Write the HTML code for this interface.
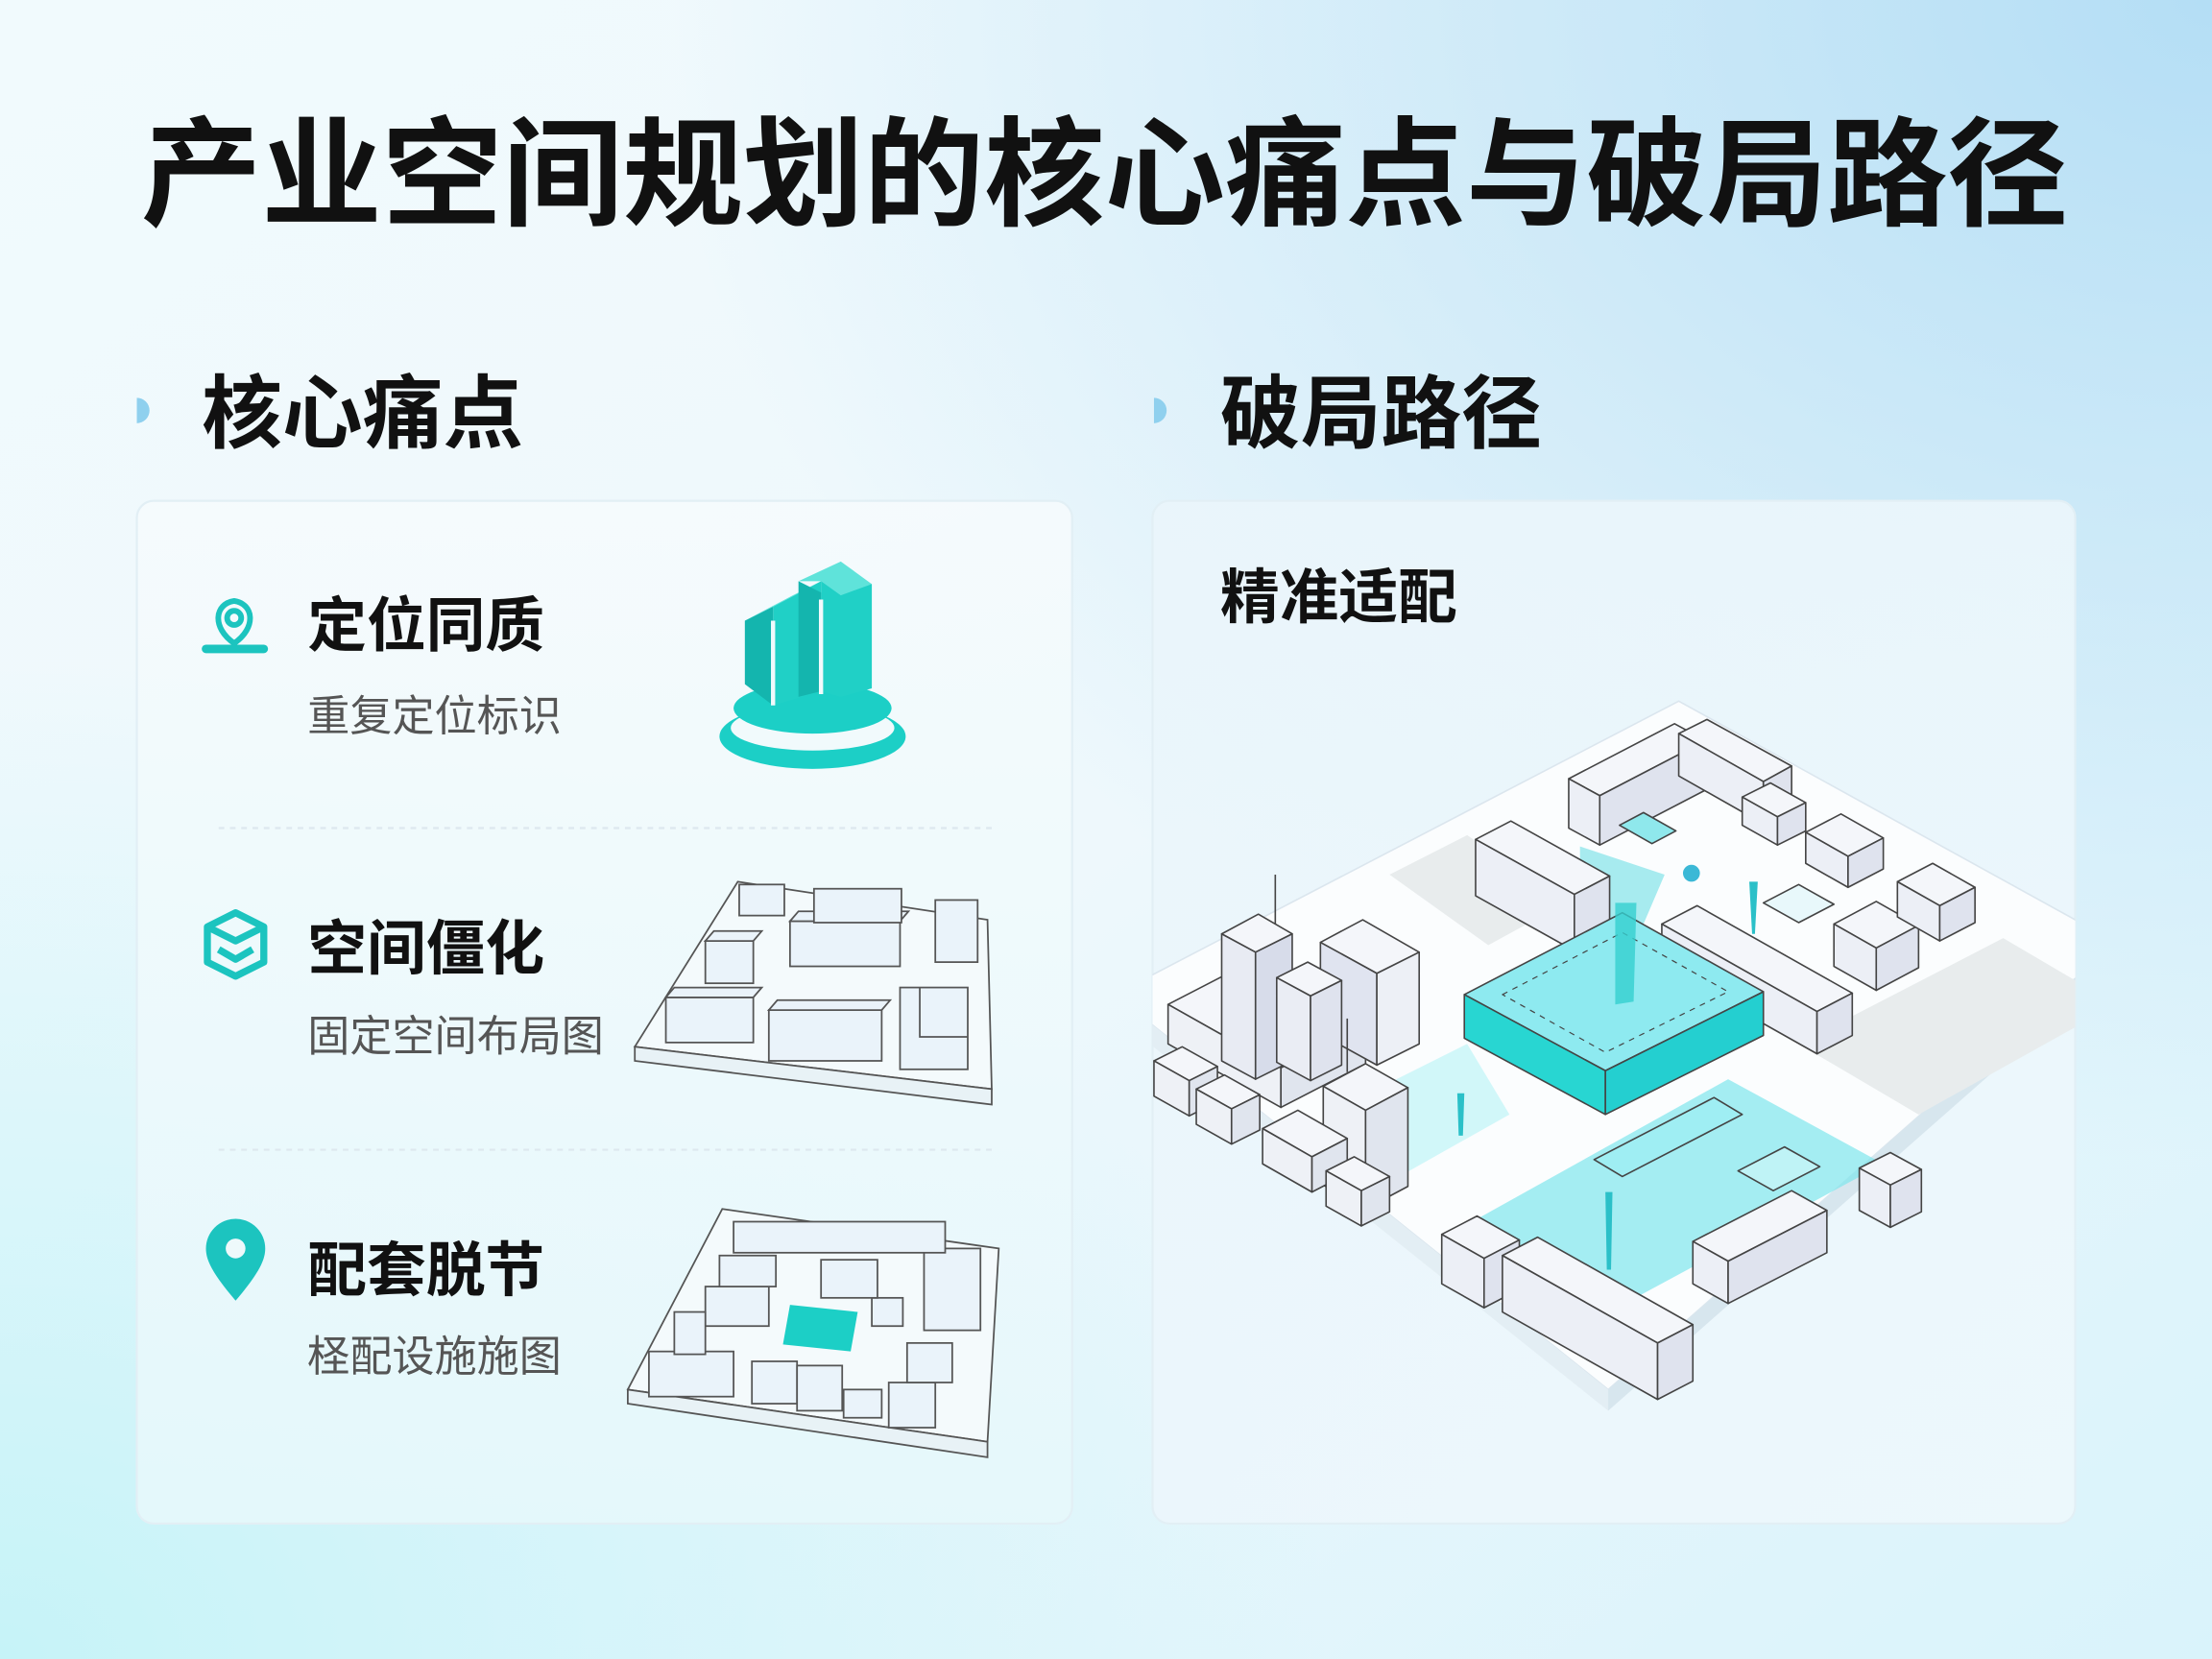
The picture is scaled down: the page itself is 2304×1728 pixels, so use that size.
<!DOCTYPE html>
<html><head><meta charset="utf-8"><style>
html,body{margin:0;padding:0;width:2304px;height:1728px;overflow:hidden;background:#eaf7fb}
svg{display:block}
text{font-family:"Liberation Sans","Noto Sans CJK SC",sans-serif}
</style></head><body>
<svg width="2304" height="1728" viewBox="0 0 1568 1176" xmlns="http://www.w3.org/2000/svg">
<defs>
<linearGradient id="bg" x1="0" y1="0" x2="1" y2="1">
<stop offset="0" stop-color="#f1fafd"/><stop offset="0.5" stop-color="#eef8fc"/><stop offset="1" stop-color="#d9f3fb"/>
</linearGradient>
<radialGradient id="tr" cx="1" cy="0" r="0.7">
<stop offset="0" stop-color="#b4def5"/><stop offset="1" stop-color="#b4def5" stop-opacity="0"/>
</radialGradient>
<radialGradient id="bl" cx="0" cy="1" r="0.6">
<stop offset="0" stop-color="#c6f3f8"/><stop offset="1" stop-color="#c6f3f8" stop-opacity="0"/>
</radialGradient>
<linearGradient id="card" x1="0" y1="0" x2="0" y2="1">
<stop offset="0" stop-color="#f6fbfd" stop-opacity="0.9"/><stop offset="1" stop-color="#e6f8fb" stop-opacity="0.9"/>
</linearGradient>
<linearGradient id="card2" x1="0" y1="0" x2="1" y2="1">
<stop offset="0" stop-color="#eaf5fb" stop-opacity="0.9"/><stop offset="1" stop-color="#eef8fc" stop-opacity="0.9"/>
</linearGradient>
<clipPath id="rc"><rect x="817" y="355" width="654" height="725" rx="12"/></clipPath>
</defs>
<rect width="1568" height="1176" fill="url(#bg)"/>
<rect width="1568" height="1176" fill="url(#tr)"/>
<rect width="1568" height="1176" fill="url(#bl)"/>

<text x="100" y="153" font-size="84" font-weight="bold" fill="#111" textLength="1366" lengthAdjust="spacingAndGlyphs">产业空间规划的核心痛点与破局路径</text>

<path d="M97,282 a9,9 0 0 1 0,18 z" fill="#8fd0ee"/>
<text x="143" y="313" font-size="57" font-weight="bold" fill="#111" textLength="228" lengthAdjust="spacingAndGlyphs">核心痛点</text>
<path d="M818,282 a9,9 0 0 1 0,18 z" fill="#8fd0ee"/>
<text x="865" y="313" font-size="57" font-weight="bold" fill="#111" textLength="228" lengthAdjust="spacingAndGlyphs">破局路径</text>

<!-- left card -->
<rect x="97" y="355" width="663" height="725" rx="12" fill="url(#card)" stroke="#e2eff5" stroke-width="1.5"/>
<!-- right card -->
<rect x="817" y="355" width="654" height="725" rx="12" fill="url(#card2)" stroke="#e2eff5" stroke-width="1.5"/>

<line x1="155" y1="587" x2="705" y2="587" stroke="#dde8ee" stroke-width="1.5" stroke-dasharray="4 4"/>
<line x1="155" y1="815" x2="705" y2="815" stroke="#dde8ee" stroke-width="1.5" stroke-dasharray="4 4"/>

<!-- icon 1 -->
<g fill="none" stroke="#1cc4bf" stroke-width="4">
<path d="M166,456 C150,445 152,428 166,426 C180,428 182,445 166,456 z"/>
<circle cx="166" cy="438" r="5"/>
</g>
<rect x="143" y="457" width="47" height="6" rx="3" fill="#1cc4bf"/>
<text x="218" y="458" font-size="42" font-weight="bold" fill="#111">定位同质</text>
<text x="218" y="518" font-size="30" fill="#555">重复定位标识</text>

<!-- teal building icon -->
<ellipse cx="576" cy="522" rx="66" ry="23" fill="#1ccfc6"/>
<ellipse cx="576" cy="516" rx="58" ry="16" fill="#f1fafc"/>
<ellipse cx="576" cy="502" rx="56" ry="18" fill="#1ccfc6"/>
<polygon points="548,430 582,412 582,490 548,500" fill="#20d0c6"/>
<polygon points="528,440 548,430 548,500 528,485" fill="#14b5ae"/>
<polygon points="528,440 562,422 582,412 548,430" fill="#5fe3da"/>
<polygon points="582,412 596,404 618,414 618,488 596,494 582,490" fill="#20d0c6"/>
<polygon points="566,412 596,398 618,414 596,422 582,412" fill="#5fe3da"/>
<polygon points="566,412 582,420 582,490 566,494" fill="#14b5ae"/>
<line x1="548" y1="440" x2="548" y2="500" stroke="#f1fafc" stroke-width="3"/>
<line x1="582" y1="425" x2="582" y2="492" stroke="#f1fafc" stroke-width="3"/>

<!-- icon 2 cube -->
<g fill="none" stroke="#1cc4bf" stroke-width="5" stroke-linejoin="round">
<polygon points="167,647 187,657 187,682 167,692 147,682 147,657"/>
<polyline points="147,657 167,667 187,657"/>
<polyline points="155,673 167,680 179,673"/>
</g>
<text x="218" y="687" font-size="42" font-weight="bold" fill="#111">空间僵化</text>
<text x="218" y="745" font-size="30" fill="#555">固定空间布局图</text>

<!-- plate 2 -->
<g stroke="#555" stroke-width="1.2" fill="#f4fafc">
<polygon points="523,625 700,652 703,772 450,742"/>
<polygon points="450,742 703,772 703,783 450,752" fill="#e8f2f6"/>
<g fill="#eaf3fa">
<rect x="472" y="707" width="62" height="32"/><polygon points="472,707 478,700 540,700 534,707"/>
<rect x="545" y="716" width="80" height="36"/><polygon points="545,716 551,709 631,709 625,716"/>
<rect x="500" y="667" width="34" height="30"/><polygon points="500,667 506,660 540,660 534,667"/>
<rect x="560" y="653" width="78" height="32"/><polygon points="560,653 566,646 644,646 638,653"/>
<rect x="577" y="630" width="62" height="24"/>
<rect x="524" y="627" width="32" height="22"/>
<rect x="663" y="638" width="30" height="44"/>
<rect x="638" y="700" width="48" height="58"/><polyline points="652,700 652,735 686,735" fill="none"/>
</g>
</g>

<!-- icon 3 pin -->
<path d="M167,922 C150,902 146,893 146,885 A21,21 0 0 1 188,885 C188,893 184,902 167,922 z" fill="#1cc4bf"/>
<circle cx="167" cy="885" r="7" fill="#eef9fb"/>
<text x="218" y="915" font-size="42" font-weight="bold" fill="#111">配套脱节</text>
<text x="218" y="972" font-size="30" fill="#555">柽配设施施图</text>

<!-- plate 3 -->
<g stroke="#555" stroke-width="1.2" fill="#f4fafc">
<polygon points="512,857 708,885 700,1022 445,985"/>
<polygon points="445,985 700,1022 700,1033 445,995" fill="#e8f2f6"/>
<polygon points="560,925 608,930 603,958 555,953" fill="#1ccfc6" stroke="none"/>
<g fill="#eaf3fa">
<rect x="460" y="958" width="60" height="32"/>
<rect x="533" y="965" width="32" height="30"/>
<rect x="565" y="968" width="32" height="32"/>
<rect x="598" y="985" width="27" height="20"/>
<rect x="630" y="980" width="33" height="32"/>
<rect x="643" y="952" width="32" height="28"/>
<rect x="618" y="920" width="22" height="20"/>
<rect x="582" y="893" width="40" height="27"/>
<rect x="655" y="885" width="40" height="58"/>
<rect x="500" y="912" width="45" height="28"/>
<rect x="510" y="890" width="40" height="22"/>
<rect x="520" y="866" width="150" height="22"/>
<rect x="478" y="930" width="22" height="30"/>
</g>
</g>

<text x="865" y="438" font-size="42" font-weight="bold" fill="#111">精准适配</text>

<!-- iso map -->
<g clip-path="url(#rc)" stroke="#444" stroke-width="1.1" stroke-linejoin="round">
<polygon points="790,705 1190,497 1500,668 1140,985" fill="#fbfdfe" stroke="#dbe6ee"/>
<polygon points="790,705 1140,985 1140,1000 790,720" fill="#e3eef4" stroke="none"/>
<polygon points="1140,985 1500,668 1500,683 1140,1000" fill="#d7e6ee" stroke="none"/>
<polygon points="985,620 1040,592 1110,640 1055,670" fill="#e8eced" stroke="none"/>
<polygon points="1275,740 1420,665 1500,712 1360,790" fill="#e8eced" stroke="none"/>
<polygon points="1040,868 1225,765 1335,825 1150,925" fill="#7fe6ec" fill-opacity="0.7" stroke="none"/>
<polygon points="960,780 1040,740 1070,790 990,835" fill="#bff3f6" fill-opacity="0.7" stroke="none"/>
<polygon points="1120,600 1180,620 1150,690 1120,690" fill="#6fe0e4" fill-opacity="0.6" stroke="none"/>

<g fill="#f4f6fa">
<!-- left cluster -->
<polygon points="828,712 888,681 968,726 908,757"/><polygon points="828,712 908,757 908,785 828,740" fill="#eef1f6"/><polygon points="908,757 968,726 968,754 908,785" fill="#e0e5ee"/>
<polygon points="866,662 892,648 916,662 890,675"/><polygon points="866,662 890,675 890,765 866,752" fill="#e8ebf3"/><polygon points="890,675 916,662 916,752 890,765" fill="#d7dcea"/>
<line x1="904" y1="620" x2="904" y2="655"/>
<polygon points="936,668 966,652 1006,675 976,690"/><polygon points="936,668 976,690 976,755 936,733" fill="#e0e4f0"/><polygon points="976,690 1006,675 1006,740 976,755" fill="#edf0f6"/>
<polygon points="905,693 927,682 951,695 929,706"/><polygon points="905,693 929,706 929,766 905,753" fill="#eaedf4"/><polygon points="929,706 951,695 951,755 929,766" fill="#dfe3ee"/>
<polygon points="938,770 968,754 998,771 968,787"/><polygon points="938,770 968,787 968,857 938,840" fill="#eef1f6"/><polygon points="968,787 998,771 998,841 968,857" fill="#e0e5ee"/>
<line x1="955" y1="722" x2="955" y2="760"/>
<polygon points="818,752 838,742 863,756 843,766"/><polygon points="818,752 843,766 843,791 818,777" fill="#eef1f6"/><polygon points="843,766 863,756 863,781 843,791" fill="#e0e5ee"/>
<polygon points="848,772 868,762 893,776 873,786"/><polygon points="848,772 873,786 873,811 848,797" fill="#eef1f6"/><polygon points="873,786 893,776 893,801 873,811" fill="#e0e5ee"/>
<polygon points="895,800 920,787 955,807 930,820"/><polygon points="895,800 930,820 930,845 895,825" fill="#eef1f6"/><polygon points="930,820 955,807 955,832 930,845" fill="#e0e5ee"/>
<polygon points="940,830 960,820 985,834 965,844"/><polygon points="940,830 965,844 965,869 940,855" fill="#eef1f6"/><polygon points="965,844 985,834 985,859 965,869" fill="#e0e5ee"/>
<!-- top right cluster -->
<polygon points="1046,595 1071,582 1141,621 1116,634"/><polygon points="1046,595 1116,634 1116,674 1046,635" fill="#eceff6"/><polygon points="1116,634 1141,621 1141,661 1116,674" fill="#dfe3ee"/>
<polygon points="1112,552 1187,513 1209,525 1134,564"/><polygon points="1112,552 1134,564 1134,599 1112,587" fill="#eceff6"/><polygon points="1134,564 1209,525 1209,560 1134,599" fill="#dfe3ee"/>
<polygon points="1190,520 1210,510 1270,543 1250,554"/><polygon points="1190,520 1250,554 1250,584 1190,550" fill="#eceff6"/><polygon points="1250,554 1270,543 1270,573 1250,584" fill="#dfe3ee"/>
<polygon points="1148,585 1165,576 1188,589 1171,598" fill="#8fe8ec"/>
<polygon points="1235,565 1255,555 1280,569 1260,579"/><polygon points="1235,565 1260,579 1260,599 1235,585" fill="#eceff6"/><polygon points="1260,579 1280,569 1280,589 1260,599" fill="#dfe3ee"/>
<polygon points="1280,590 1305,577 1335,594 1310,607"/><polygon points="1280,590 1310,607 1310,629 1280,612" fill="#eceff6"/><polygon points="1310,607 1335,594 1335,616 1310,629" fill="#dfe3ee"/>
<polygon points="1178,655 1203,642 1313,704 1288,717"/><polygon points="1178,655 1288,717 1288,747 1178,685" fill="#eceff6"/><polygon points="1288,717 1313,704 1313,734 1288,747" fill="#dfe3ee"/>
<polygon points="1300,655 1330,639 1360,656 1330,672"/><polygon points="1300,655 1330,672 1330,702 1300,685" fill="#eceff6"/><polygon points="1330,672 1360,656 1360,686 1330,702" fill="#dfe3ee"/>
<polygon points="1345,625 1370,612 1400,629 1375,642"/><polygon points="1345,625 1375,642 1375,667 1345,650" fill="#eceff6"/><polygon points="1375,642 1400,629 1400,654 1375,667" fill="#dfe3ee"/>
<polygon points="1250,640 1275,627 1300,641 1275,654" fill="#e8f8fb"/>
<!-- central teal slab -->
<polygon points="1038,705 1150,647 1250,703 1138,759" fill="#8eeaf0"/>
<polygon points="1038,705 1138,759 1138,790 1038,736" fill="#28d6d2"/>
<polygon points="1138,759 1250,703 1250,734 1138,790" fill="#24cfd0"/>
<polygon points="1065,705 1150,661 1225,703 1138,746" fill="none" stroke-dasharray="4 4" stroke-width="0.8"/>
<polygon points="1145,640 1160,640 1158,710 1145,712" fill="#35cfd0" stroke="none" opacity="0.8"/>
<circle cx="1199" cy="619" r="6" fill="#3bb8d6" stroke="none"/>
<polygon points="1240,625 1246,625 1244,662 1242,662" fill="#2bc0c8" stroke="none"/>
<!-- bottom cluster -->
<polygon points="1022,875 1047,862 1077,879 1052,892"/><polygon points="1022,875 1052,892 1052,927 1022,910" fill="#eceff6"/><polygon points="1052,892 1077,879 1077,914 1052,927" fill="#dfe3ee"/>
<polygon points="1065,890 1090,877 1200,939 1175,952"/><polygon points="1065,890 1175,952 1175,992 1065,930" fill="#eceff6"/><polygon points="1175,952 1200,939 1200,979 1175,992" fill="#dfe3ee"/>
<polygon points="1200,880 1270,844 1295,858 1225,894"/><polygon points="1200,880 1225,894 1225,924 1200,910" fill="#eceff6"/><polygon points="1225,894 1295,858 1295,888 1225,924" fill="#dfe3ee"/>
<polygon points="1318,828 1340,817 1362,829 1340,840"/><polygon points="1318,828 1340,840 1340,870 1318,858" fill="#eceff6"/><polygon points="1340,840 1362,829 1362,859 1340,870" fill="#dfe3ee"/>
<polygon points="1130,822 1215,778 1235,790 1150,834" fill="#9eedf2" fill-opacity="0.8"/>
<polygon points="1232,830 1265,813 1290,827 1257,844" fill="#bff3f6"/>
<polygon points="1138,845 1143,845 1142,900 1139,900" fill="#2bc0c8" stroke="none"/>
<polygon points="1033,775 1038,775 1037,805 1034,805" fill="#2bc0c8" stroke="none"/>
</g>
</g>
</svg>
</body></html>
